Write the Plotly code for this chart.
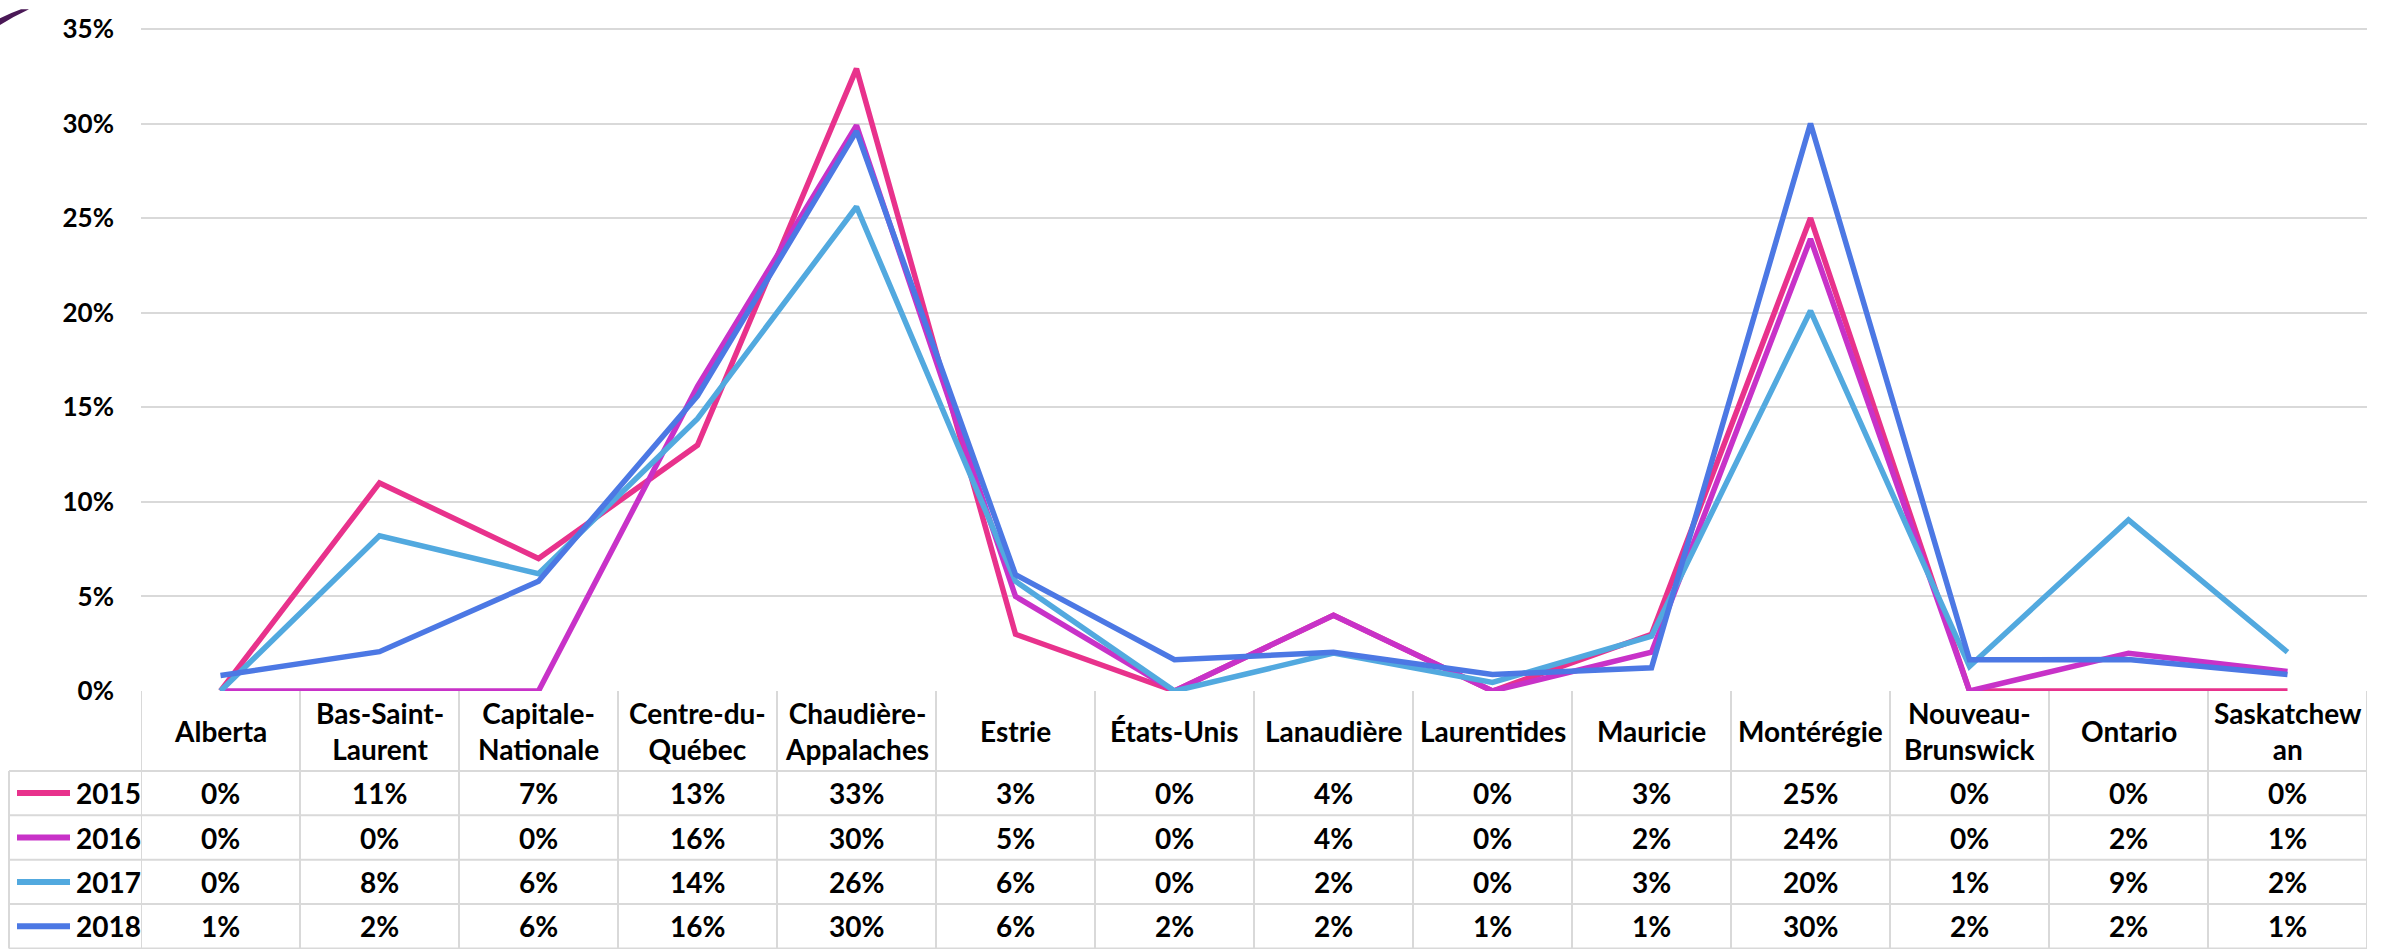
import plotly.graph_objects as go

categories = ["Alberta", "Bas-Saint-Laurent", "Capitale-Nationale", "Centre-du-Québec",
              "Chaudière-Appalaches", "Estrie", "États-Unis", "Lanaudière", "Laurentides",
              "Mauricie", "Montérégie", "Nouveau-Brunswick", "Ontario", "Saskatchewan"]
header_labels = ["Alberta", "Bas-Saint-<br>Laurent", "Capitale-<br>Nationale", "Centre-du-<br>Québec",
                 "Chaudière-<br>Appalaches", "Estrie", "États-Unis", "Lanaudière", "Laurentides",
                 "Mauricie", "Montérégie", "Nouveau-<br>Brunswick", "Ontario", "Saskatchew<br>an"]

years = ["2015", "2016", "2017", "2018"]
v2015 = [0.0, 11.0, 7.0, 13.0, 32.9, 3.0, 0.0, 4.0, 0.0, 3.0, 25.0, 0.0, 0.0, 0.0]
v2016 = [0.0, 0.0, 0.0, 16.1, 29.9, 5.0, 0.0, 4.0, 0.0, 2.05, 23.9, 0.0, 2.0, 1.03]
v2017 = [0.0, 8.2, 6.2, 14.4, 25.6, 5.8, 0.0, 2.0, 0.45, 2.9, 20.1, 1.3, 9.05, 2.05]
v2018 = [0.82, 2.08, 5.8, 15.6, 29.6, 6.15, 1.65, 2.05, 0.87, 1.23, 30.0, 1.65, 1.67, 0.87]
series = [v2015, v2016, v2017, v2018]
colors = ["#E8328C", "#C832C8", "#52A9DF", "#4C78E4"]

y_ticks = [0, 0.05, 0.10, 0.15, 0.20, 0.25, 0.30, 0.35]

W, H = 2389, 949
L, R, T, B = 141, 22, 19, 258
PH = H - T - B
PW = W - L - R

def py(pix):
    return (H - B - pix) / PH

def px(pix):
    return (pix - L) / PW

FONT = "Lato"
FS_AX = 26
FS_TB = 28
grid = "#D9D9D9"

fig = go.Figure()
for name, vals, col in zip(years, series, colors):
    fig.add_trace(go.Scatter(
        x=categories, y=[v / 100 for v in vals], mode="lines", name=name,
        line=dict(color=col, width=5.5), showlegend=False))

shapes = []
annotations = []

# Table geometry (pixels)
header_bottom = 772
row_h = 45
n_rows = len(years)
row_tops = [header_bottom + i * row_h for i in range(n_rows)]
table_bottom = header_bottom + n_rows * row_h

# vertical separators between categories
for k in range(len(categories) + 1):
    shapes.append(dict(type="line", xref="x", yref="paper",
                       x0=k - 0.5, x1=k - 0.5, y0=py(H - B), y1=py(table_bottom),
                       line=dict(color=grid, width=2), layer="below"))
# left border of legend column
shapes.append(dict(type="line", xref="paper", yref="paper",
                   x0=px(9), x1=px(9), y0=py(header_bottom), y1=py(table_bottom),
                   line=dict(color=grid, width=2)))
# horizontal row lines
for t in row_tops + [table_bottom]:
    shapes.append(dict(type="line", xref="paper", yref="paper",
                       x0=px(9), x1=1, y0=py(t), y1=py(t),
                       line=dict(color=grid, width=2)))
# top gridline (35%)
shapes.append(dict(type="line", xref="paper", yref="y", x0=0, x1=1, y0=0.35, y1=0.35,
                   line=dict(color=grid, width=2), layer="below"))

# header labels
for i, lab in enumerate(header_labels):
    annotations.append(dict(x=categories[i], y=py((H - B + header_bottom) / 2), xref="x", yref="paper",
                            text=f"<b>{lab}</b>", showarrow=False, xanchor="center", yanchor="middle",
                            font=dict(family=FONT, size=FS_TB, color="#000000")))

# rows
for r, (name, vals, col) in enumerate(zip(years, series, colors)):
    yc = row_tops[r] + row_h / 2
    shapes.append(dict(type="line", xref="paper", yref="paper",
                       x0=px(17), x1=px(70), y0=py(yc), y1=py(yc),
                       line=dict(color=col, width=6)))
    annotations.append(dict(x=px(74), y=py(yc), xref="paper", yref="paper",
                            text=f"<b>{name}</b>", showarrow=False, xanchor="left", yanchor="middle",
                            font=dict(family=FONT, size=FS_TB, color="#000000")))
    for i, v in enumerate(vals):
        annotations.append(dict(x=categories[i], y=py(yc), xref="x", yref="paper",
                                text=f"<b>{int(round(v))}%</b>", showarrow=False,
                                xanchor="center", yanchor="middle",
                                font=dict(family=FONT, size=FS_TB, color="#000000")))

# decorative corner stroke (top-left)
shapes.append(dict(type="path", xref="paper", yref="paper",
                   path=(f"M {px(0)} {py(9)} Q {px(10)} {py(4)} {px(21)} {py(0)} "
                         f"L {px(29)} {py(0)} Q {px(14)} {py(7)} {px(0)} {py(16)} Z"),
                   fillcolor="#4A1856", line=dict(width=0)))

fig.update_layout(
    width=W, height=H,
    margin=dict(l=L, r=R, t=T, b=B),
    paper_bgcolor="white", plot_bgcolor="white",
    font=dict(family=FONT, size=FS_AX, color="#000000"),
    xaxis=dict(type="category", range=[-0.5, len(categories) - 0.5], showticklabels=False,
               showgrid=False, zeroline=False, showline=False, ticks=""),
    yaxis=dict(range=[0, 0.3505], tickvals=y_ticks, tickformat=".0%", showgrid=True,
               gridcolor=grid, gridwidth=2, zeroline=False, showline=False, ticks="",
               ticklabelstandoff=26,
               tickfont=dict(family=FONT, size=FS_AX, color="#000000", weight="bold")),
    shapes=shapes, annotations=annotations, showlegend=False,
)

fig.write_html("out.html", config={"displayModeBar": False},
               post_script="document.body.style.margin='0';document.body.style.overflow='hidden';")
